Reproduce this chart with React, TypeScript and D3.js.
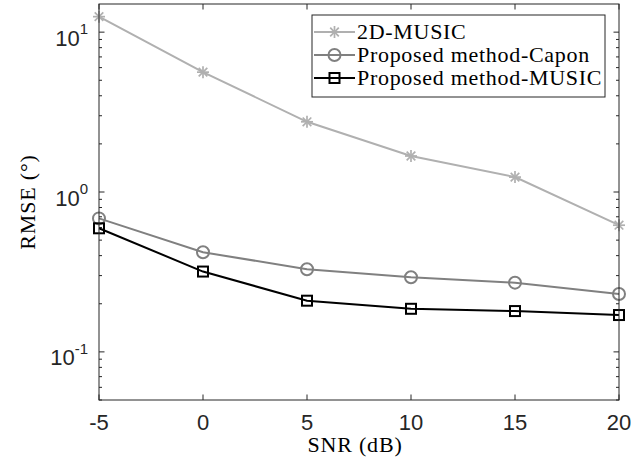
import React from "react";
import * as d3 from "d3";

const snr = [-5, 0, 5, 10, 15, 20];
const music2d = [12.5, 5.62, 2.75, 1.68, 1.24, 0.62];
const capon = [0.684, 0.42, 0.329, 0.293, 0.271, 0.23];
const propMusic = [0.593, 0.318, 0.209, 0.186, 0.18, 0.17];
const seriesNames = ["2D-MUSIC", "Proposed method-Capon", "Proposed method-MUSIC"];
const xTicks = [-5, 0, 5, 10, 15, 20];
const yMajor = [0.1, 1, 10];
const yExp = ["-1", "0", "1"];

const W = 643, H = 468;
const L = 99, R = 619, T = 4, B = 400;

export default function App() {
  const x = d3.scaleLinear().domain([-5, 20]).range([L, R]);
  const y = d3.scaleLog().domain([0.05, 15]).range([B, T]);
  const line = d3.line<number>().x((_, i) => x(snr[i])).y((v) => y(v));
  const axisColor = "#262626";
  const series = [
    { name: seriesNames[0], data: music2d, color: "#b0b0b0", marker: "star" },
    { name: seriesNames[1], data: capon, color: "#808080", marker: "circle" },
    { name: seriesNames[2], data: propMusic, color: "#000000", marker: "square" },
  ];
  const minor: number[] = [];
  [0.01, 0.1, 1, 10].forEach((d) => {
    for (let k = 2; k <= 9; k++) {
      const v = d * k;
      if (v >= 0.05 && v <= 15) minor.push(v);
    }
  });

  const marker = (kind: string, cx: number, cy: number, color: string, key: any) => {
    if (kind === "star") {
      const s = 6, d = 4.3;
      return (
        <g key={key} stroke={color} strokeWidth={1.7}>
          <line x1={cx - s} y1={cy} x2={cx + s} y2={cy} />
          <line x1={cx} y1={cy - s} x2={cx} y2={cy + s} />
          <line x1={cx - d} y1={cy - d} x2={cx + d} y2={cy + d} />
          <line x1={cx - d} y1={cy + d} x2={cx + d} y2={cy - d} />
        </g>
      );
    }
    if (kind === "circle")
      return <circle key={key} cx={cx} cy={cy} r={6} fill="none" stroke={color} strokeWidth={2} />;
    return <rect key={key} x={cx - 5} y={cy - 5} width={10} height={10} fill="none" stroke={color} strokeWidth={2} />;
  };

  const serif = "Liberation Serif, Times New Roman, serif";

  return (
    <div style={{ position: "fixed", left: 0, top: 0 }}>
      <svg width={W} height={H} style={{ display: "block", background: "#fff" }}>
        <rect x={0} y={0} width={W} height={H} fill="#fff" />
        <g stroke={axisColor} strokeWidth={1}>
          {xTicks.map((t) => (
            <g key={"xt" + t}>
              <line x1={x(t)} x2={x(t)} y1={B} y2={B - 5.5} />
              <line x1={x(t)} x2={x(t)} y1={T} y2={T + 5.5} />
            </g>
          ))}
          {yMajor.map((t) => (
            <g key={"ym" + t}>
              <line x1={L} x2={L + 5.5} y1={y(t)} y2={y(t)} />
              <line x1={R} x2={R - 5.5} y1={y(t)} y2={y(t)} />
            </g>
          ))}
          {minor.map((t) => (
            <g key={"yn" + t}>
              <line x1={L} x2={L + 3} y1={y(t)} y2={y(t)} />
              <line x1={R} x2={R - 3} y1={y(t)} y2={y(t)} />
            </g>
          ))}
        </g>
        {series.map((s, si) => (
          <g key={"s" + si}>
            <path d={line(s.data) || ""} fill="none" stroke={s.color} strokeWidth={2} />
            {s.data.map((v, i) => marker(s.marker, x(snr[i]), y(v), s.color, i))}
          </g>
        ))}
        <rect x={L} y={T} width={R - L} height={B - T} fill="none" stroke={axisColor} strokeWidth={1} />
        <g fontFamily="Liberation Sans, Arial, sans-serif" fontSize={22} fill={axisColor}>
          {xTicks.map((t) => (
            <text key={"xl" + t} x={x(t)} y={430} textAnchor="middle">
              {t}
            </text>
          ))}
          {yMajor.map((t, i) => (
            <text key={"yl" + t} x={88} y={y(t) + 13.5} textAnchor="end">
              10
              <tspan fontSize={15} dy={-11.5}>
                {yExp[i]}
              </tspan>
            </text>
          ))}
        </g>
        <g fontFamily={serif} fontSize={22} fill="#000">
          <text x={(L + R) / 2 - 4} y={452} textAnchor="middle" letterSpacing={0.8}>
            SNR (dB)
          </text>
          <text transform={`translate(35,${(T + B) / 2}) rotate(-90)`} textAnchor="middle" letterSpacing={0.8}>
            RMSE (°)
          </text>
        </g>
        <g>
          <rect x={312} y={15} width={293} height={82} fill="#fff" stroke={axisColor} strokeWidth={1} />
          {series.map((s, i) => {
            const cy = 32 + i * 23;
            return (
              <g key={"lg" + i}>
                <line x1={314} x2={355} y1={cy} y2={cy} stroke={s.color} strokeWidth={2} />
                {marker(s.marker, 334.5, cy, s.color, "m")}
                <text x={357} y={cy + 7} fontFamily={serif} fontSize={22} letterSpacing={0.7} fill="#000">
                  {s.name}
                </text>
              </g>
            );
          })}
        </g>
      </svg>
    </div>
  );
}
